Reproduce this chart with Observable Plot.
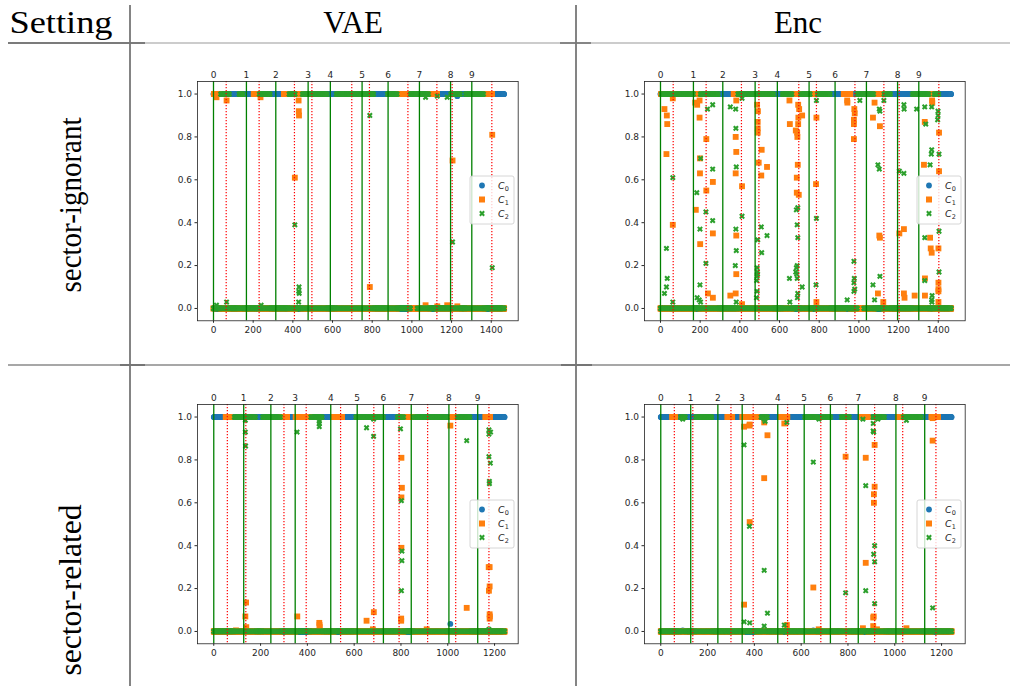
<!DOCTYPE html>
<html><head><meta charset="utf-8">
<script src="https://cdn.jsdelivr.net/npm/d3@7"></script>
<script src="https://cdn.jsdelivr.net/npm/@observablehq/plot@0.6"></script>
<style>
body{margin:0;background:#fff;}
#fig{position:relative;width:1010px;height:686px;overflow:hidden;background:#fff;}
#fig > svg, #fig > div{position:absolute;}
</style></head><body><div id="fig"></div>
<script>
// ---------- data ----------
const topN = 1466, botN = 1244;
const classLabels = ["0","1","2","3","4","5","6","7","8","9"];
const topGreen = [0,166,314,477,589,749,880,1038,1195,1302];
const topRed = [64,230,408,496,697,786,980,1126,1203,1403];
const botGreen = [0,128,244,348,500,613,725,844,1005,1128];
const botRed = [58,137,300,395,542,684,792,914,1034,1176];
const topXTicks = [0,200,400,600,800,1000,1200,1400];
const botXTicks = [0,200,400,600,800,1000,1200];
const yTicks = [0,0.2,0.4,0.6,0.8,1.0];
const seriesNames = ["0","1","2"];
const seriesColors = ["#1f77b4","#ff7f0e","#2ca02c"];
const colHeaders = ["Setting","VAE","Enc"];
const rowHeaders = ["sector-ignorant","sector-related"];

// predicted class runs: [start, end, cycling pattern of classes]; class 0 elsewhere
const runsVaeIgn = [[2,35,"1"],[35,82,"02"],[128,150,"02"],[203,230,"1"],[230,287,"02"],[355,380,"1"],[380,413,"02"],[413,447,"1"],[447,573,"02"],[618,808,"02"],[876,926,"02"],[926,993,"1"],[993,1027,"2"],[1027,1086,"02"],[1086,1128,"1"],[1195,1245,"02"],[1270,1363,"02"],[1363,1405,"1"]];
const c0VaeIgn = [[1229,0.99]];
const c1VaeIgn = [[15,0.985],[66,0.97],[237,0.985],[410,0.61],[429,0.97],[430,0.92],[431,0.90],[788,0.10],[1069,0.015],[1128,0.01],[1178,0.015],[1205,0.69],[1229,0.01],[1405,0.81]];
const c2VaeIgn = [[15,0.015],[66,0.03],[240,0.015],[410,0.39],[429,0.03],[430,0.08],[431,0.10],[432,0.07],[788,0.90],[1069,0.985],[1128,0.99],[1178,0.985],[1205,0.31],[1405,0.19]];

const runsEncIgn = [[3,57,"12"],[57,69,"1"],[69,167,"02"],[167,200,"1"],[200,293,"02"],[369,389,"1"],[389,571,"02"],[613,663,"02"],[663,705,"1"],[705,756,"02"],[756,790,"1"],[790,857,"02"],[924,958,"1"],[992,1025,"2"],[1025,1076,"02"],[1076,1126,"1"],[1126,1160,"02"],[1269,1354,"02"],[1354,1379,"1"],[1379,1404,"02"]];
const c0EncIgn = [];
const c1EncIgn = [[20,0.93],[32,0.90],[34,0.86],[30,0.72],[62,0.39],[62,0.98],[175,0.96],[185,0.95],[197,0.97],[197,0.89],[199,0.70],[199,0.63],[178,0.46],[200,0.30],[231,0.79],[231,0.55],[239,0.07],[264,0.59],[264,0.35],[264,0.05],[352,0.06],[379,0.07],[382,0.97],[379,0.80],[382,0.73],[379,0.63],[382,0.34],[382,0.16],[411,0.57],[411,0.02],[487,0.95],[491,0.92],[490,0.87],[490,0.84],[490,0.82],[495,0.68],[508,0.62],[510,0.74],[537,0.66],[650,0.97],[652,0.86],[682,0.83],[689,0.82],[690,0.80],[694,0.95],[699,0.93],[695,0.89],[694,0.86],[714,0.90],[692,0.67],[687,0.61],[687,0.54],[697,0.53],[786,0.89],[784,0.58],[786,0.03],[941,0.97],[942,0.96],[977,0.93],[979,0.91],[975,0.88],[975,0.86],[975,0.79],[1071,0.89],[1079,0.96],[1106,0.85],[1103,0.34],[1106,0.33],[1096,0.07],[1123,0.03],[1204,0.35],[1227,0.37],[1227,0.07],[1230,0.05],[1281,0.06],[1332,0.87],[1328,0.67],[1333,0.14],[1333,0.06],[1359,0.33],[1362,0.28],[1367,0.26],[1369,0.97],[1370,0.96],[1404,0.82],[1404,0.64],[1401,0.28],[1401,0.12],[1401,0.09],[1401,0.08],[1401,0.03]];
const c2EncIgn = [[62,0.61],[30,0.28],[34,0.14],[30,0.10],[20,0.07],[62,0.03],[183,0.54],[202,0.70],[199,0.37],[199,0.11],[185,0.05],[195,0.04],[202,0.03],[237,0.93],[263,0.95],[263,0.65],[229,0.45],[263,0.41],[229,0.21],[352,0.94],[379,0.93],[380,0.84],[382,0.66],[380,0.37],[382,0.27],[377,0.20],[382,0.03],[411,0.98],[411,0.43],[490,0.32],[487,0.19],[488,0.17],[489,0.16],[487,0.15],[485,0.13],[487,0.08],[484,0.05],[508,0.38],[510,0.26],[537,0.34],[650,0.14],[652,0.03],[685,0.46],[692,0.47],[689,0.39],[692,0.33],[689,0.20],[685,0.19],[682,0.17],[687,0.16],[689,0.14],[714,0.10],[692,0.07],[690,0.05],[786,0.97],[786,0.42],[784,0.11],[941,0.04],[975,0.22],[977,0.14],[975,0.12],[979,0.09],[975,0.08],[1005,0.97],[1079,0.04],[1071,0.11],[1103,0.93],[1106,0.92],[1096,0.67],[1103,0.65],[1106,0.15],[1126,0.97],[1204,0.64],[1227,0.95],[1228,0.93],[1227,0.63],[1291,0.93],[1332,0.94],[1337,0.86],[1332,0.33],[1332,0.13],[1359,0.67],[1367,0.74],[1365,0.72],[1367,0.94],[1369,0.06],[1367,0.04],[1368,0.03],[1399,0.92],[1399,0.90],[1397,0.88],[1404,0.72],[1404,0.36],[1404,0.17]];

const runsVaeRel = [[51,70,"1"],[87,179,"02"],[208,286,"02"],[286,314,"1"],[350,414,"1"],[414,464,"02"],[514,549,"1"],[606,727,"02"],[784,812,"02"],[812,855,"1"],[855,997,"02"],[1018,1040,"1"],[1040,1097,"02"],[1161,1182,"1"]];
const c0VaeRel = [[1011,0.035]];
const c1VaeRel = [[138,0.135],[135,0.07],[139,0.02],[95,0.005],[357,0.07],[451,0.04],[452,0.03],[453,0.02],[653,0.05],[684,0.09],[680,0.01],[802,0.81],[804,0.67],[802,0.625],[802,0.39],[801,0.06],[801,0.05],[910,0.01],[1011,0.96],[1081,0.11],[1175,0.30],[1179,0.30],[1179,0.21],[1176,0.19],[1179,0.08],[1180,0.07],[1179,0.06]];
const c2VaeRel = [[135,0.985],[135,0.93],[136,0.865],[356,0.93],[451,0.98],[451,0.97],[451,0.955],[653,0.95],[683,0.99],[683,0.91],[798,0.945],[802,0.61],[804,0.375],[804,0.33],[802,0.19],[1081,0.89],[1176,0.94],[1183,0.93],[1176,0.92],[1176,0.815],[1182,0.785],[1178,0.70],[1178,0.69],[1176,0.01]];

const runsEncRel = [[49,63,"1"],[84,106,"02"],[149,220,"02"],[285,306,"1"],[349,413,"1"],[428,456,"02"],[514,542,"1"],[614,671,"02"],[685,728,"02"],[771,807,"02"],[857,886,"1"],[907,957,"02"],[1014,1036,"1"],[1036,1114,"02"],[1157,1186,"1"]];
const c0EncRel = [[94,0.005],[652,0.005]];
const c1EncRel = [[356,0.955],[379,0.96],[380,0.965],[356,0.125],[380,0.51],[442,0.975],[456,0.915],[442,0.715],[539,0.03],[528,0.97],[652,0.205],[675,0.01],[790,0.815],[876,0.81],[864,0.015],[876,0.32],[914,0.87],[914,0.675],[911,0.64],[911,0.60],[910,0.07],[908,0.065],[908,0.025],[924,0.01],[1050,0.015],[1162,0.89],[1162,0.995]];
const c2EncRel = [[94,0.99],[356,0.87],[379,0.49],[356,0.045],[380,0.04],[442,0.99],[446,0.98],[442,0.285],[442,0.025],[456,0.085],[528,0.03],[539,0.975],[652,0.79],[676,0.99],[790,0.18],[864,0.99],[876,0.68],[876,0.19],[908,0.97],[908,0.935],[910,0.93],[914,0.40],[910,0.36],[914,0.325],[914,0.13],[928,0.99],[1050,0.985],[1162,0.11]];

// ---------- helpers ----------
function decodeClasses(n, runs){
  const cls = new Array(n).fill(0);
  for (const [s,e,p] of runs) for (let i=s;i<e && i<n;i++) cls[i] = +p[(i-s)%p.length];
  return cls;
}
function seriesPoints(n, runs, extras){
  const cls = decodeClasses(n, runs);
  return [0,1,2].map(k => {
    const pts = cls.map((c,i)=>({x:i, y: c===k ? 1 : 0}));
    for (const [i,v] of extras[k]) pts.push({x:i, y:v});
    return pts;
  });
}
function xPath(r){
  const a=r*1.05, w=r*0.36, s=Math.SQRT1_2;
  const pl=[[-w,-a],[w,-a],[w,-w],[a,-w],[a,w],[w,w],[w,a],[-w,a],[-w,w],[-a,w],[-a,-w],[-w,-w]];
  return pl.map(([x,y])=>[(x-y)*s,(x+y)*s]);
}
const symX = {draw(ctx, size){
  const r = Math.sqrt(size/Math.PI);
  const pts = xPath(r);
  ctx.moveTo(pts[0][0],pts[0][1]);
  for (let i=1;i<pts.length;i++) ctx.lineTo(pts[i][0],pts[i][1]);
  ctx.closePath();
}};

const FW = 320.7, FH = 239.3;
const panels = [
  {left:197.3, top:80.7, n:topN, xdom:[-80.6,1535.8], xticks:topXTicks, greens:topGreen, reds:topRed, runs:runsVaeIgn, ex:[c0VaeIgn,c1VaeIgn,c2VaeIgn]},
  {left:644.3, top:80.7, n:topN, xdom:[-80.6,1535.8], xticks:topXTicks, greens:topGreen, reds:topRed, runs:runsEncIgn, ex:[c0EncIgn,c1EncIgn,c2EncIgn]},
  {left:197.3, top:404.2, n:botN, xdom:[-69.5,1301], xticks:botXTicks, greens:botGreen, reds:botRed, runs:runsVaeRel, ex:[c0VaeRel,c1VaeRel,c2VaeRel]},
  {left:644.3, top:404.2, n:botN, xdom:[-69.5,1301], xticks:botXTicks, greens:botGreen, reds:botRed, runs:runsEncRel, ex:[c0EncRel,c1EncRel,c2EncRel]},
];

const fig = document.getElementById("fig");
const NS = "http://www.w3.org/2000/svg";

// ---------- table grid & headers ----------
const grid = `<svg xmlns="${NS}" width="1010" height="686" style="left:0;top:0">
  <g stroke-linecap="butt">
    <line x1="8" x2="1010" y1="43" y2="43" stroke="#9a9a9a" stroke-width="1.2"/>
    <line x1="8" x2="145" y1="43" y2="43" stroke="#606060" stroke-width="1.3"/>
    <line x1="560" x2="591" y1="43" y2="43" stroke="#606060" stroke-width="1.3"/>
    <line x1="8" x2="1010" y1="365" y2="365" stroke="#8a8a8a" stroke-width="1.3"/>
    <line x1="120" x2="145" y1="365" y2="365" stroke="#606060" stroke-width="1.4"/>
    <line x1="561" x2="592" y1="365" y2="365" stroke="#606060" stroke-width="1.4"/>
    <line x1="130" x2="130" y1="5" y2="686" stroke="#777" stroke-width="1.8"/>
    <line x1="576" x2="576" y1="5" y2="686" stroke="#777" stroke-width="1.8"/>
  </g>
  <g font-family="Liberation Serif, serif" font-size="31" fill="#000">
    <text x="61" y="33" text-anchor="middle" textLength="103" lengthAdjust="spacingAndGlyphs">${colHeaders[0]}</text>
    <text x="353" y="33" text-anchor="middle">${colHeaders[1]}</text>
    <text x="798" y="33" text-anchor="middle">${colHeaders[2]}</text>
    <text transform="translate(81,205) rotate(-90)" text-anchor="middle" textLength="175" lengthAdjust="spacingAndGlyphs">${rowHeaders[0]}</text>
    <text transform="translate(81,590) rotate(-90)" text-anchor="middle" textLength="171" lengthAdjust="spacingAndGlyphs">${rowHeaders[1]}</text>
  </g>
</svg>`;
fig.insertAdjacentHTML("beforeend", grid);

// ---------- plots ----------
const mL=40, mT=20, mR=6, mB=26;
for (const p of panels){
  const pts = seriesPoints(p.n, p.runs, p.ex);
  const chart = Plot.plot({
    width: mL+FW+mR, height: mT+FH+mB,
    marginLeft:mL, marginTop:mT, marginRight:mR, marginBottom:mB,
    style:{fontFamily:"DejaVu Sans", fontSize:"9px", color:"#262626", background:"transparent", overflow:"visible"},
    x:{domain:p.xdom, label:null},
    y:{domain:[-0.0575,1.0585], label:null},
    marks:[
      Plot.dot(pts[0], {x:"x", y:"y", r:2.9, fill:seriesColors[0], symbol:"circle"}),
      Plot.dot(pts[1], {x:"x", y:"y", r:3.3, fill:seriesColors[1], symbol:"square"}),
      Plot.dot(pts[2], {x:"x", y:"y", r:2.9, fill:seriesColors[2], symbol:symX}),
      Plot.ruleX(p.greens, {stroke:"green", strokeWidth:1.3}),
      Plot.ruleX(p.reds, {stroke:"red", strokeWidth:1.2, strokeDasharray:"1.3,1.7"}),
      Plot.frame({stroke:"#222", strokeWidth:0.8}),
      Plot.axisX({anchor:"bottom", ticks:p.xticks, tickSize:2.5, tickPadding:3, tickFormat:d=>String(d), label:null}),
      Plot.axisX({anchor:"top", ticks:p.greens, tickSize:0, tickPadding:3, tickFormat:d=>classLabels[p.greens.indexOf(d)], label:null}),
      Plot.axisY({anchor:"left", ticks:yTicks, tickSize:2.5, tickPadding:3, tickFormat:d=>d.toFixed(1), label:null})
    ]
  });
  chart.style.position = "absolute";
  chart.style.left = (p.left - mL) + "px";
  chart.style.top = (p.top - mT) + "px";
  fig.appendChild(chart);

  // legend (center right)
  const lw=44, lh=48;
  const lx = p.left + FW - 4.5 - lw, ly = p.top + FH/2 - lh/2;
  const xp = xPath(2.9).map(q=>q.join(",")).join(" ");
  const leg = `<svg xmlns="${NS}" width="${lw+2}" height="${lh+2}" style="left:${lx-1}px;top:${ly-1}px">
    <rect x="1" y="1" width="${lw}" height="${lh}" rx="2" fill="rgba(255,255,255,0.8)" stroke="#cccccc" stroke-width="0.8"/>
    <circle cx="13" cy="10.5" r="2.9" fill="${seriesColors[0]}"/>
    <rect x="10" y="21.5" width="6" height="6" fill="${seriesColors[1]}"/>
    <polygon transform="translate(13,38.5)" points="${xp}" fill="${seriesColors[2]}"/>
    <g font-family="DejaVu Sans" font-size="9.5" fill="#262626">
      <text x="29" y="14"><tspan font-style="italic">C</tspan><tspan dy="2.2" font-size="6.5">${seriesNames[0]}</tspan></text>
      <text x="29" y="28"><tspan font-style="italic">C</tspan><tspan dy="2.2" font-size="6.5">${seriesNames[1]}</tspan></text>
      <text x="29" y="42"><tspan font-style="italic">C</tspan><tspan dy="2.2" font-size="6.5">${seriesNames[2]}</tspan></text>
    </g>
  </svg>`;
  fig.insertAdjacentHTML("beforeend", leg);
}
</script></body></html>
